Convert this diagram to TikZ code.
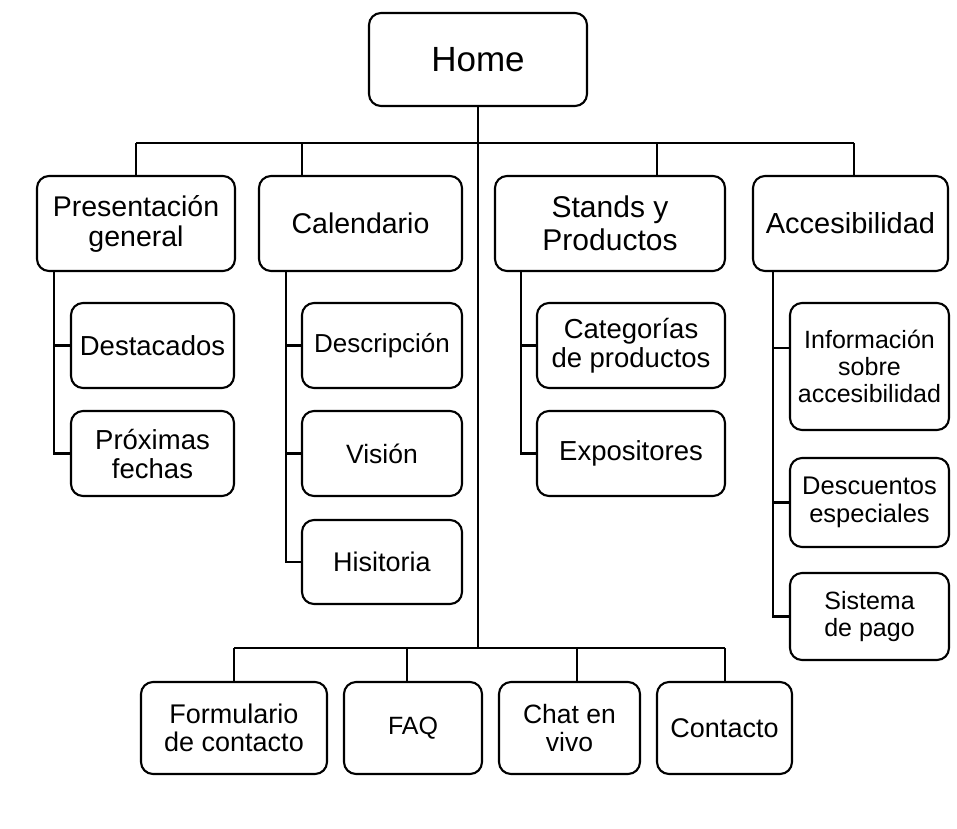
\documentclass[tikz,border=0pt]{standalone}
\usepackage{fontspec}
\setmainfont{Liberation Sans}
\begin{document}
\begin{tikzpicture}[x=1pt,y=-1pt]
\tikzset{
  box/.style={draw, line width=2.1pt, rounded corners=12pt, inner sep=0pt, align=center},
  conn/.style={line width=2.1pt},
  fhome/.style={font=\fontsize{35}{38}\selectfont},
  fone/.style={font=\fontsize{28.5}{30}\selectfont},
  ftwo/.style={font=\fontsize{27.5}{29}\selectfont},
  fthree/.style={font=\fontsize{25}{27}\selectfont},
  ffour/.style={font=\fontsize{27}{28}\selectfont},
}
\fill[white] (0,0) rectangle (957,828);
\useasboundingbox (0,0) rectangle (957,828);

% top
\node[box, fhome, minimum width=218pt, minimum height=93pt] (home) at (478,59.5) {Home};

% level 1
\node[box, fone, minimum width=198pt, minimum height=95pt] (pres) at (136,223.5) {\raisebox{-3pt}{\parbox{190pt}{\centering Presentación\\general}}};
\node[box, fone, minimum width=203pt, minimum height=95pt] (cal) at (360.5,223.5) {Calendario};
\node[box, font=\fontsize{30}{33}\selectfont, minimum width=230pt, minimum height=95pt] (stands) at (610,223.5) {Stands y\\Productos};
\node[box, font=\fontsize{29}{31}\selectfont, minimum width=195pt, minimum height=95pt] (acc) at (850.5,223.5) {Accesibilidad};

% children of Presentación
\node[box, ftwo, minimum width=163pt, minimum height=85pt] (dest) at (152.5,345.5) {Destacados};
\node[box, ftwo, minimum width=163pt, minimum height=85pt] (prox) at (152.5,453.5) {Próximas\\fechas};

% children of Calendario
\node[box, font=\fontsize{26}{28}\selectfont, minimum width=160pt, minimum height=85pt] (desc) at (382,345.5) {Descripción};
\node[box, font=\fontsize{26.5}{28}\selectfont, minimum width=160pt, minimum height=85pt] (vis) at (382,453.5) {Visión};
\node[box, font=\fontsize{27}{28}\selectfont, minimum width=160pt, minimum height=84pt] (his) at (382,562) {Hisitoria};

% children of Stands
\node[box, ftwo, minimum width=188pt, minimum height=85pt] (cat) at (631,345.5) {Categorías\\de productos};
\node[box, ftwo, minimum width=188pt, minimum height=85pt] (expo) at (631,453.5) {Expositores};

% children of Accesibilidad
\node[box, fthree, minimum width=159pt, minimum height=127pt] (info) at (869.5,366.5) {Información\\sobre\\accesibilidad};
\node[box, font=\fontsize{25.5}{28}\selectfont, minimum width=159pt, minimum height=89pt] (dsc) at (869.5,502.5) {Descuentos\\especiales};
\node[box, fthree, minimum width=159pt, minimum height=87pt] (sis) at (869.5,616.5) {Sistema\\de pago};

% bottom row
\node[box, ffour, minimum width=186pt, minimum height=92pt] (form) at (234,728) {Formulario\\de contacto};
\node[box, font=\fontsize{25}{28}\selectfont, minimum width=138pt, minimum height=92pt] (faq) at (413,728) {FAQ};
\node[box, font=\fontsize{26.5}{28}\selectfont, minimum width=141pt, minimum height=92pt] (chat) at (569.5,728) {Chat en\\vivo};
\node[box, ffour, minimum width=135pt, minimum height=92pt] (cont) at (724.5,728) {Contacto};

% taps on the buses
\coordinate (tpres) at (136,143);
\coordinate (tcal) at (302,143);
\coordinate (tstands) at (657,143);
\coordinate (tacc) at (854,143);
\coordinate (tmain) at (478,648);
\coordinate (tform) at (234,648);
\coordinate (tfaq) at (407,648);
\coordinate (tchat) at (577,648);
\coordinate (tcont) at (725,648);

% main trunk and buses
\draw[conn] (home.south) -- (tmain);
\draw[conn] (tpres) -- (tacc);
\draw[conn] (tform) -- (tcont);
\draw[conn] (tpres) -- (tpres |- pres.north);
\draw[conn] (tcal) -- (tcal |- cal.north);
\draw[conn] (tstands) -- (tstands |- stands.north);
\draw[conn] (tacc) -- (tacc |- acc.north);
\draw[conn] (tform) -- (tform |- form.north);
\draw[conn] (tfaq) -- (tfaq |- faq.north);
\draw[conn] (tchat) -- (tchat |- chat.north);
\draw[conn] (tcont) -- (tcont |- cont.north);

% Presentación children
\coordinate (vpres) at (54,271);
\draw[conn] (vpres) -- (vpres |- prox.west) -- (prox.west);
\draw[conn] (vpres |- dest.west) -- (dest.west);

% Calendario children
\coordinate (vcal) at (286,271);
\draw[conn] (vcal) -- (vcal |- his.west) -- (his.west);
\draw[conn] (vcal |- desc.west) -- (desc.west);
\draw[conn] (vcal |- vis.west) -- (vis.west);

% Stands children
\coordinate (vstands) at (521,271);
\draw[conn] (vstands) -- (vstands |- expo.west) -- (expo.west);
\draw[conn] (vstands |- cat.west) -- (cat.west);

% Accesibilidad children
\coordinate (vacc) at (773,271);
\coordinate (iacc) at (773,348);
\draw[conn] (vacc) -- (vacc |- sis.west) -- (sis.west);
\draw[conn] (iacc) -- (iacc -| info.west);
\draw[conn] (vacc |- dsc.west) -- (dsc.west);
\end{tikzpicture}
\end{document}
